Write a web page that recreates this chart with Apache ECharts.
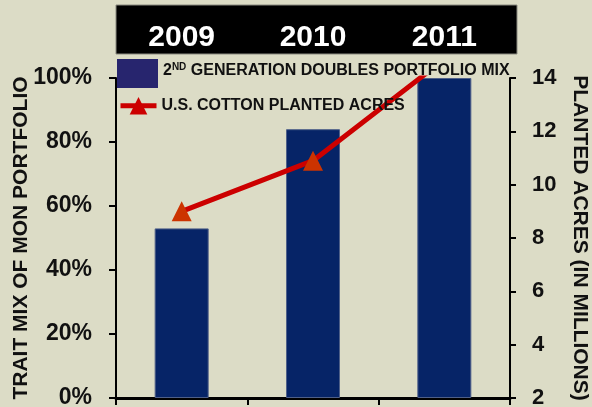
<!DOCTYPE html>
<html>
<head>
<meta charset="utf-8">
<script src="https://cdn.jsdelivr.net/npm/echarts@6/dist/echarts.min.js"></script>
<style>
  html, body { margin: 0; padding: 0; background: #dcdcc6; }
  #main { width: 592px; height: 407px; }
</style>
</head>
<body>
<div id="main"></div>
<script>
var years = ['2009', '2010', '2011'];
var traitMix = [53, 84, 100];          // % of MON portfolio
var plantedAcres = [9.0, 10.9, 14.7];  // millions of acres
var leftTicks = [0, 20, 40, 60, 80, 100];
var rightTicks = [2, 4, 6, 8, 10, 12, 14];

var barName = '2ND GENERATION DOUBLES PORTFOLIO MIX';
var lineName = 'U.S. COTTON PLANTED ACRES';

var font = 'Liberation Sans, Arial, sans-serif';

var myChart = echarts.init(document.getElementById('main'));

var option = {
    backgroundColor: '#dcdcc6',
    animation: false,
    textStyle: { fontFamily: font },
    graphic: [{
        type: 'rect',
        shape: { x: 116, y: 5, width: 401, height: 49 },
        style: { fill: '#000', stroke: '#8a8a80', lineWidth: 1 },
        z: 0
    }],
    grid: {
        left: 116,
        right: 82,
        top: 78,
        bottom: 9,
        containLabel: false,
        outerBoundsMode: 'none'
    },
    legend: [{
        data: [{ name: barName, icon: 'rect' }],
        left: 117,
        top: 59,
        padding: 0,
        itemWidth: 41,
        itemHeight: 29,
        itemGap: 0,
        selectedMode: false,
        itemStyle: { color: '#27256e', borderWidth: 0 },
        formatter: function () { return '2{sup|ND} GENERATION DOUBLES PORTFOLIO MIX'; },
        textStyle: {
            color: '#111',
            fontSize: 16,
            fontWeight: 'bold',
            fontFamily: font,
            padding: [0, 0, 5, 0],
            rich: {
                sup: { fontSize: 10, fontWeight: 'bold', verticalAlign: 'top', padding: [0, 0, 8, 0], fontFamily: font }
            }
        }
    }, {
        data: [lineName],
        left: 118,
        top: 97,
        padding: 0,
        itemWidth: 36,
        itemHeight: 22,
        selectedMode: false,
        lineStyle: { width: 5, color: '#cc0000' },
        itemStyle: { color: '#cc0000' },
        textStyle: { color: '#111', fontSize: 16, fontWeight: 'bold', fontFamily: font }
    }],
    xAxis: [{
        type: 'category',
        data: years,
        position: 'bottom',
        axisLine: { lineStyle: { color: '#000', width: 3 } },
        axisTick: { show: true, length: 7, lineStyle: { color: '#000', width: 2 } },
        axisLabel: { show: false }
    }, {
        type: 'category',
        data: years,
        position: 'top',
        axisLine: { show: false },
        axisTick: { show: false },
        axisLabel: {
            color: '#fff',
            fontSize: 30,
            fontWeight: 'bold',
            fontFamily: font,
            margin: 25
        }
    }],
    yAxis: [{
        type: 'value',
        min: 0,
        max: 100,
        interval: 20,
        name: 'TRAIT MIX OF MON PORTFOLIO',
        nameLocation: 'middle',
        nameGap: 84,
        nameRotate: 90,
        nameMoveOverlap: false,
        nameTextStyle: { color: '#111', fontSize: 21, fontWeight: 'bold', fontFamily: font },
        axisLine: { show: true, lineStyle: { color: '#000', width: 2 } },
        axisTick: { show: true, length: 7, lineStyle: { color: '#000', width: 2 } },
        splitLine: { show: false },
        axisLabel: {
            color: '#111',
            fontSize: 23,
            fontWeight: 'bold',
            fontFamily: font,
            margin: 24,
            formatter: function (v) { return leftTicks.indexOf(v) >= 0 ? v + '%' : ''; }
        }
    }, {
        type: 'value',
        min: 2,
        max: 14,
        interval: 2,
        position: 'right',
        name: 'PLANTED ACRES (IN MILLIONS)',
        nameLocation: 'middle',
        nameGap: 59,
        nameRotate: -90,
        nameMoveOverlap: false,
        nameTextStyle: { color: '#111', fontSize: 21, fontWeight: 'bold', fontFamily: font },
        axisLine: { show: true, lineStyle: { color: '#000', width: 2 } },
        axisTick: { show: true, length: 6, lineStyle: { color: '#000', width: 2 } },
        splitLine: { show: false },
        axisLabel: {
            color: '#111',
            fontSize: 22,
            fontWeight: 'bold',
            fontFamily: font,
            margin: 22,
            formatter: function (v) { return rightTicks.indexOf(v) >= 0 ? String(v) : ''; }
        }
    }],
    series: [{
        name: barName,
        type: 'bar',
        xAxisIndex: 0,
        yAxisIndex: 0,
        barWidth: 54,
        data: traitMix,
        itemStyle: { color: '#062467', borderColor: '#4e5f88', borderWidth: 1 },
        z: 2
    }, {
        name: lineName,
        type: 'line',
        xAxisIndex: 0,
        yAxisIndex: 1,
        data: plantedAcres,
        symbol: 'triangle',
        symbolSize: 20,
        clip: true,
        lineStyle: { color: '#cc0000', width: 5 },
        itemStyle: { color: '#cc3300' },
        z: 3
    }]
};

myChart.setOption(option);
window.addEventListener('resize', function () {
    myChart.resize();
});
</script>
</body>
</html>
